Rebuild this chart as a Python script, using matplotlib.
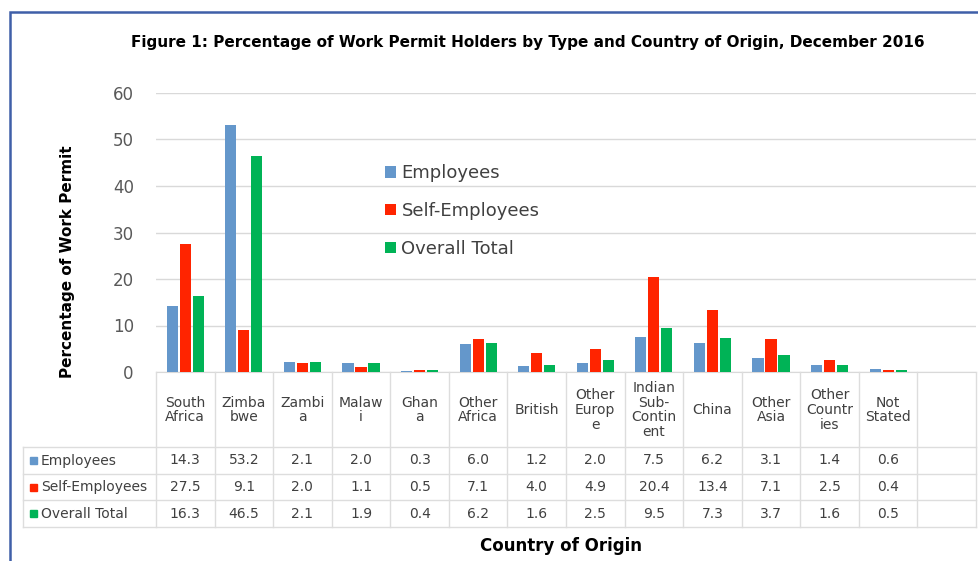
import matplotlib
matplotlib.use("Agg")
import matplotlib.pyplot as plt
import matplotlib.patches as mpatches
import numpy as np

plt.rcParams['font.family'] = ['DejaVu Sans']

# data (last column of the Excel table is empty)
countries = ["South\nAfrica", "Zimba\nbwe", "Zambi\na", "Malaw\ni", "Ghan\na",
             "Other\nAfrica", "British", "Other\nEurop\ne", "Indian\nSub-\nContin\nent",
             "China", "Other\nAsia", "Other\nCountr\nies", "Not\nStated", ""]
employees = [14.3, 53.2, 2.1, 2.0, 0.3, 6.0, 1.2, 2.0, 7.5, 6.2, 3.1, 1.4, 0.6, None]
self_employees = [27.5, 9.1, 2.0, 1.1, 0.5, 7.1, 4.0, 4.9, 20.4, 13.4, 7.1, 2.5, 0.4, None]
overall = [16.3, 46.5, 2.1, 1.9, 0.4, 6.2, 1.6, 2.5, 9.5, 7.3, 3.7, 1.6, 0.5, None]

series_names = ["Employees", "Self-Employees", "Overall Total"]
series_vals = [employees, self_employees, overall]
colors = ["#6497CB", "#FF2400", "#00B356"]

W, H = 979, 561
fig = plt.figure(figsize=(W / 100, H / 100), dpi=100)

def fx(px):
    return px / W

def fy(px):
    return 1 - px / H

txt = "#404040"
grid_c = "#D9D9D9"

# main bar axes
ax = fig.add_axes([fx(156), fy(372), fx(976) - fx(156), fy(93) - fy(372)])
n = len(countries)
x = np.arange(n)
bw = 0.19
step = 0.222
for i, (name, vals, c) in enumerate(zip(series_names, series_vals, colors)):
    v = [np.nan if a is None else a for a in vals]
    ax.bar(x + (i - 1) * step, v, width=bw, color=c, label=name, zorder=3)

ax.set_xlim(-0.5, n - 0.5)
ax.set_ylim(0, 60)
ax.set_yticks(range(0, 61, 10))
ax.yaxis.grid(True, color=grid_c, linewidth=1)
ax.set_axisbelow(True)
ax.set_xticks([])
ax.tick_params(axis='y', length=0, labelsize=12, labelcolor="#595959", pad=16)
for s in ["top", "right", "left"]:
    ax.spines[s].set_visible(False)
ax.spines["bottom"].set_color(grid_c)

leg = ax.legend(loc="upper left", bbox_to_anchor=(fx(369), fy(148)),
                bbox_transform=fig.transFigure, frameon=False, fontsize=13,
                handlelength=0.6, handleheight=0.6, handletextpad=0.3,
                labelspacing=1.1, labelcolor=txt)

# data table axes (y in pixels from the axis line down)
tab = fig.add_axes([fx(156), fy(527), fx(976) - fx(156), fy(372) - fy(527)])
tab.set_xlim(-0.5, n - 0.5)
tab.set_ylim(155, 0)
tab.axis("off")
line_c = "#DDDDDD"
left_u = (23 - 156) / 58.57 - 0.5
rows_y = [75, 102, 128, 155]
for b in np.arange(-0.5, n, 1.0):
    tab.plot([b, b], [0, 155], color=line_c, lw=1, clip_on=False)
tab.plot([left_u, left_u], [75, 155], color=line_c, lw=1, clip_on=False)
for yy in rows_y:
    tab.plot([left_u, n - 0.5], [yy, yy], color=line_c, lw=1, clip_on=False)

for i, lab in enumerate(countries):
    tab.text(i, 38, lab, ha="center", va="center", fontsize=10, color=txt,
             linespacing=1.05)

for r, (name, vals, c) in enumerate(zip(series_names, series_vals, colors)):
    yc = (rows_y[r] + rows_y[r + 1]) / 2
    for i, v in enumerate(vals):
        if v is not None:
            tab.text(i, yc, f"{v:.1f}", ha="center", va="center", fontsize=10,
                     color=txt)
    sq = 7
    ypx = 372 + yc
    fig.add_artist(mpatches.Rectangle((fx(30), fy(ypx + sq / 2)), fx(sq), sq / H,
                                      color=c, transform=fig.transFigure))
    fig.text(fx(41), fy(ypx), name, ha="left", va="center", fontsize=10, color=txt)

# texts
fig.text(fx(528), fy(42), "Figure 1: Percentage of Work Permit Holders by Type and Country of Origin, December 2016",
         ha="center", va="center", fontsize=11, fontweight="bold", color="black")
fig.text(fx(68), fy(262), "Percentage of Work Permit", rotation=90, ha="center",
         va="center", fontsize=11, fontweight="bold", color="black")
fig.text(fx(561), fy(546), "Country of Origin", ha="center", va="center",
         fontsize=12, fontweight="bold", color="black")

# outer frame
fig.add_artist(mpatches.Rectangle((fx(10), -0.1), 1.2, fy(12) + 0.1, fill=False,
                                  edgecolor="#3F5FA8", lw=1.8,
                                  transform=fig.transFigure))

fig.savefig("out.png", dpi=100)
